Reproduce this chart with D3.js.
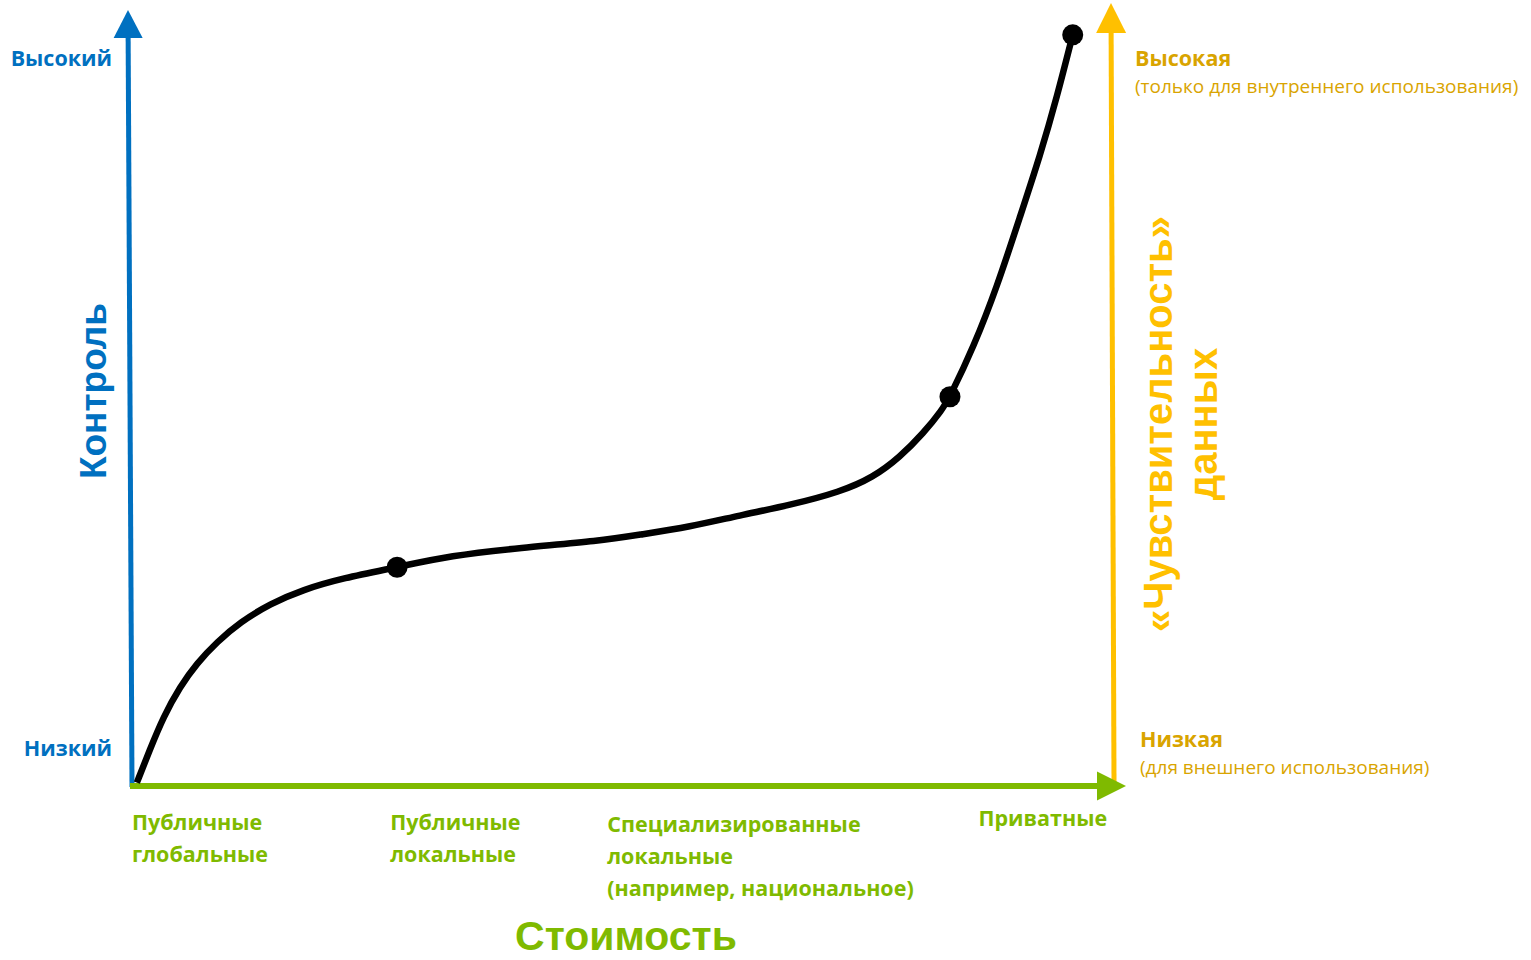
<!DOCTYPE html>
<html>
<head>
<meta charset="utf-8">
<script src="https://cdn.jsdelivr.net/npm/d3@7"></script>
<style>
  body { margin: 0; background: #fff; }
  svg { display: block; }
</style>
</head>
<body>
<div id="container"></div>
<script>
/**
 * CONSTANTS AND GLOBALS
 * */
const w = 1531
const h = 960

const blue = "#0070C0"
const green = "#7FBA00"
const gold = "#FFC000"
const goldText = "#D9A400"

// curve: cost (x) vs control (y), 0..100 both
const cost = [0.7, 2.0, 3.4, 5.1, 6.8, 8.9, 11.2, 14.3, 17.6, 21.7, 27.2, 32.6, 39.7, 47.9, 51.9,
  57.0, 62.1, 67.2, 72.3, 75.7, 78.4, 80.8, 82.7, 83.5, 85.9, 88.3, 90.6, 92.7, 94.4, 96.0]
const control = [0.3, 4.5, 8.8, 12.7, 15.7, 18.5, 21.0, 23.4, 25.2, 26.7, 28.1, 29.6, 30.6, 31.5, 32.3,
  33.3, 34.8, 36.1, 37.8, 39.7, 42.3, 45.4, 48.4, 50.1, 56.5, 64.3, 73.2, 81.3, 88.8, 96.8]

// highlighted points on the curve
const markerCost = [27.2, 83.5, 96.0]
const markerControl = [28.1, 50.1, 96.8]

// category labels along the cost axis
const categories = [
  ["Публичные", "глобальные"],
  ["Публичные", "локальные"],
  ["Специализированные", "локальные", "(например, национальное)"],
  ["Приватные"]
]
const categoryPos = [0.2, 26.5, 48.6, 86.4]

const leftTicks = ["Высокий", "Низкий"]
const rightTicks = [["Высокая", "(только для внутреннего использования)"], ["Низкая", "(для внешнего использования)"]]

let svg

/**
 * SCALES
 * */
const xScale = d3.scaleLinear().domain([0, 100]).range([130, 1112])
const yScale = d3.scaleLinear().domain([0, 100]).range([785, 10])

svg = d3.select("#container")
  .append("svg")
  .attr("width", w)
  .attr("height", h)

const labelFont = "'Open Sans', 'Noto Sans', sans-serif"
const titleFont = "'Liberation Sans', Arial, sans-serif"

// arrow helper: line + triangle head
function arrow(x1, y1, x2, y2, color, headLen, headW, sw) {
  const ang = Math.atan2(y2 - y1, x2 - x1)
  const bx = x2 - headLen * Math.cos(ang)
  const by = y2 - headLen * Math.sin(ang)
  svg.append("line")
    .attr("x1", x1).attr("y1", y1)
    .attr("x2", bx).attr("y2", by)
    .attr("stroke", color)
    .attr("stroke-width", sw)
  const px = -Math.sin(ang) * headW / 2
  const py = Math.cos(ang) * headW / 2
  svg.append("path")
    .attr("d", `M${x2},${y2}L${bx + px},${by + py}L${bx - px},${by - py}Z`)
    .attr("fill", color)
}

// axes
arrow(132, 787, 128, 10, blue, 28, 29, 5)
arrow(1114, 782, 1111, 3, gold, 30, 30, 5)
arrow(130, 786, 1126, 786, green, 29, 29, 6)

// curve
const line = d3.line()
  .x((d, i) => xScale(cost[i]))
  .y((d, i) => yScale(control[i]))
  .curve(d3.curveBasis)

svg.append("path")
  .datum(cost)
  .attr("d", line)
  .attr("fill", "none")
  .attr("stroke", "#000")
  .attr("stroke-width", 6.5)
  .attr("stroke-linecap", "butt")

svg.selectAll("circle.marker")
  .data(markerCost)
  .join("circle")
  .attr("class", "marker")
  .attr("cx", d => xScale(d))
  .attr("cy", (d, i) => yScale(markerControl[i]))
  .attr("r", 10.5)
  .attr("fill", "#000")

// left tick labels
svg.selectAll("text.left")
  .data(leftTicks)
  .join("text")
  .attr("class", "left")
  .attr("x", 112)
  .attr("y", (d, i) => i === 0 ? 66 : 756)
  .attr("text-anchor", "end")
  .attr("font-family", labelFont)
  .attr("font-weight", 700)
  .attr("font-size", 21.5)
  .attr("fill", blue)
  .text(d => d)

// left title
svg.append("text")
  .attr("transform", "translate(106,391) rotate(-90)")
  .attr("text-anchor", "middle")
  .attr("font-family", titleFont)
  .attr("font-weight", 700)
  .attr("font-size", 37)
  .attr("fill", blue)
  .text("Контроль")

// right tick labels
rightTicks.forEach((t, i) => {
  const x0 = i === 0 ? 1135 : 1140
  const y0 = i === 0 ? 66 : 747
  svg.append("text")
    .attr("x", x0).attr("y", y0)
    .attr("font-family", labelFont)
    .attr("font-weight", 700)
    .attr("font-size", 21.5)
    .attr("fill", goldText)
    .text(t[0])
  svg.append("text")
    .attr("x", x0).attr("y", y0 + 27)
    .attr("font-family", labelFont)
    .attr("font-size", 19)
    .attr("fill", goldText)
    .text(t[1])
})

// right title
const rt = svg.append("text")
  .attr("transform", "translate(1172,424) rotate(-90)")
  .attr("text-anchor", "middle")
  .attr("font-family", titleFont)
  .attr("font-weight", 700)
  .attr("font-size", 40)
  .attr("fill", gold)
rt.append("tspan").attr("x", 0).attr("y", 0).text("«Чувствительность»")
rt.append("tspan").attr("x", 0).attr("y", 45).text("данных")

// category labels
categories.forEach((lines, i) => {
  const t = svg.append("text")
    .attr("font-family", labelFont)
    .attr("font-weight", 700)
    .attr("font-size", 21.5)
    .attr("fill", green)
  const y0 = i === 3 ? 826 : (i === 2 ? 832 : 830)
  lines.forEach((s, j) => {
    t.append("tspan")
      .attr("x", xScale(categoryPos[i]))
      .attr("y", y0 + j * 32)
      .text(s)
  })
})

// bottom title
svg.append("text")
  .attr("x", 626)
  .attr("y", 950)
  .attr("text-anchor", "middle")
  .attr("font-family", titleFont)
  .attr("font-weight", 700)
  .attr("font-size", 41)
  .attr("fill", green)
  .text("Стоимость")
</script>
</body>
</html>
